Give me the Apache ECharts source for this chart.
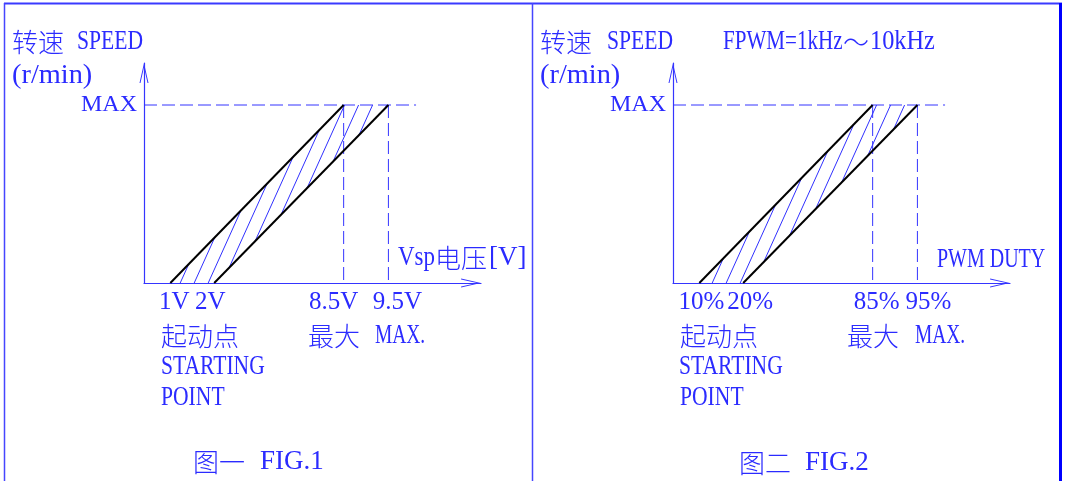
<!DOCTYPE html>
<html><head><meta charset="utf-8">
<script src="https://cdn.jsdelivr.net/npm/echarts@6/dist/echarts.min.js"></script>
<style>html,body{margin:0;padding:0;background:#fff}#c{width:1066px;height:481px}</style>
</head><body><div id="c"></div>
<script>
// ---- data (schematic positions: x in drawing units, y: 1 = MAX speed) ----
const xTickPos = [1, 2, 4.95, 5.97];
const fig1TickLabels = ['1V', '2V', '8.5V', '9.5V'];
const fig2TickLabels = ['10%', '20%', '85%', '95%'];
const yTickPos = [1];
const yTickLabels = ['MAX'];
const fastLine = [[1, 0], [4.95, 1]];   // starts at 1V / 10%, MAX at 8.5V / 85%
const slowLine = [[2, 0], [5.97, 1]];   // starts at 2V / 20%, MAX at 9.5V / 95%
const maxGuide = [[0.4, 1], [6.6, 1]];
const guideA = [[4.95, 1], [4.95, 0]];
const guideB = [[5.97, 1], [5.97, 0]];

// ---- style ----
const BLUE = '#2b2bff';
const LINEBLUE = '#3535ff';
const CJK = "'Noto Sans CJK SC'";
const LAT = "'Liberation Serif'";
const fig1LabelShift = [4, -4, -10, 9];
const fig2LabelShift = [2, 7, 4, 11];

function hatchCanvas() {
  const w = 14, h = 31;
  const c = document.createElement('canvas');
  c.width = w; c.height = h;
  const g = c.getContext('2d');
  g.strokeStyle = '#3030ff';
  g.lineWidth = 1;
  for (const dx of [-w, 0, w]) {
    g.beginPath(); g.moveTo(dx, h); g.lineTo(dx + w, 0); g.stroke();
  }
  return c;
}
const hatch = hatchCanvas();

const arrow = 'path://M0,0 L5,22 L3.9,22 L0,4.6 L-3.9,22 L-5,22 Z';

function richFor(shifts) {
  const r = {};
  shifts.forEach((s, i) => {
    r['l' + i] = { fontFamily: LAT, fontSize: 25, color: BLUE,
      padding: s >= 0 ? [0, 0, 0, 2 * s] : [0, -2 * s, 0, 0] };
  });
  return r;
}

function makeX(idx, labels, shifts) {
  return {
    type: 'value', gridIndex: idx, min: 0.4, max: 8.08,
    axisLine: { show: true, lineStyle: { color: LINEBLUE, width: 1.2 },
      symbol: ['none', arrow], symbolSize: [9, 20], symbolOffset: [0, -10] },
    axisTick: { show: false },
    splitLine: { show: false },
    axisLabel: {
      customValues: xTickPos, margin: 7,
      formatter: (v) => { const i = xTickPos.indexOf(v); return '{l' + i + '|' + labels[i] + '}'; },
      rich: richFor(shifts), color: BLUE, fontFamily: LAT, fontSize: 25
    }
  };
}
function makeY(idx) {
  return {
    type: 'value', gridIndex: idx, min: 0, max: 1.236,
    axisLine: { show: true, lineStyle: { color: LINEBLUE, width: 1.2 },
      symbol: ['none', arrow], symbolSize: [9, 20], symbolOffset: [0, -10] },
    axisTick: { show: false },
    splitLine: { show: false },
    axisLabel: {
      customValues: yTickPos, margin: 7,
      formatter: (v) => yTickLabels[yTickPos.indexOf(v)],
      color: BLUE, fontFamily: LAT, fontSize: 24
    }
  };
}

function panelSeries(idx) {
  const ax = { xAxisIndex: idx, yAxisIndex: idx };
  const dash = (data) => Object.assign({
    type: 'line', data, symbol: 'none', silent: true, z: 2,
    lineStyle: { color: LINEBLUE, width: 1, type: [13, 5] }
  }, ax);
  return [
    Object.assign({
      type: 'custom', data: [[0, 0]], silent: true, z: 1,
      renderItem: (params, api) => ({
        type: 'polygon',
        shape: { points: [fastLine[0], fastLine[1], slowLine[1], slowLine[0]].map(p => api.coord(p)) },
        style: { fill: { image: hatch, repeat: 'repeat' }, stroke: null }
      })
    }, ax),
    dash(maxGuide), dash(guideA), dash(guideB),
    Object.assign({ type: 'line', data: fastLine, symbol: 'none', silent: true, z: 3,
      lineStyle: { color: '#000', width: 2 } }, ax),
    Object.assign({ type: 'line', data: slowLine, symbol: 'none', silent: true, z: 3,
      lineStyle: { color: '#000', width: 2 } }, ax)
  ];
}

function cjk(x, y, text) {
  return { type: 'text', x, y, silent: true, z: 10,
    style: { text, fill: BLUE, font: '300 26px ' + CJK, textAlign: 'left', align: 'left',
      textVerticalAlign: 'middle', verticalAlign: 'middle' } };
}
function lat(x, y, text, sx) {
  return { type: 'text', x, y, scaleX: sx || 0.8, silent: true, z: 10,
    style: { text, fill: BLUE, font: '27px ' + LAT, textAlign: 'left', align: 'left',
      textVerticalAlign: 'middle', verticalAlign: 'middle' } };
}
function vline(x, w, color) {
  return { type: 'line', silent: true, shape: { x1: x, y1: 3, x2: x, y2: 481 },
    style: { stroke: color, lineWidth: w } };
}

const graphic = [
  { type: 'line', silent: true, shape: { x1: 4, y1: 3.5, x2: 1062, y2: 3.5 }, style: { stroke: '#3a3aff', lineWidth: 2 } },
  vline(4.5, 1.5, '#4545ff'), vline(532.5, 1.5, '#4545ff'), vline(1060.5, 3, '#0000ff'),
  // FIG.1
  cjk(12, 42, '转速'), lat(77, 42, 'SPEED'),
  lat(12, 76, '(r/min)', 1.05),
  lat(398, 258, 'Vsp', 0.85), cjk(435, 258, '电压'), lat(489, 258, '[V]', 1.0),
  cjk(161, 336, '起动点'), lat(161, 367, 'STARTING'), lat(161, 398, 'POINT'),
  cjk(308, 336, '最大'), lat(375, 336, 'MAX.', 0.72),
  cjk(193, 462, '图一'), lat(260, 462, 'FIG.1', 1.0),
  // FIG.2
  cjk(540, 42, '转速'), lat(607, 42, 'SPEED'),
  lat(723, 42, 'FPWM=1kHz', 0.78), cjk(843, 42, '～'), lat(870, 42, '10kHz', 0.9),
  lat(540, 76, '(r/min)', 1.05),
  lat(937, 260, 'PWM DUTY', 0.74),
  cjk(680, 336, '起动点'), lat(679, 367, 'STARTING'), lat(680, 398, 'POINT'),
  cjk(847, 336, '最大'), lat(915, 336, 'MAX.', 0.72),
  cjk(739, 463, '图二'), lat(805, 463, 'FIG.2', 1.0)
];

const chart = echarts.init(document.getElementById('c'), null, { renderer: 'canvas' });
chart.setOption({
  animation: false,
  backgroundColor: '#fff',
  grid: [
    { left: 144, top: 63, width: 337, height: 220, containLabel: false, outerBoundsMode: 'none' },
    { left: 673, top: 63, width: 337, height: 220, containLabel: false, outerBoundsMode: 'none' }
  ],
  xAxis: [makeX(0, fig1TickLabels, fig1LabelShift), makeX(1, fig2TickLabels, fig2LabelShift)],
  yAxis: [makeY(0), makeY(1)],
  series: panelSeries(0).concat(panelSeries(1)),
  graphic
});
</script>
</body></html>
